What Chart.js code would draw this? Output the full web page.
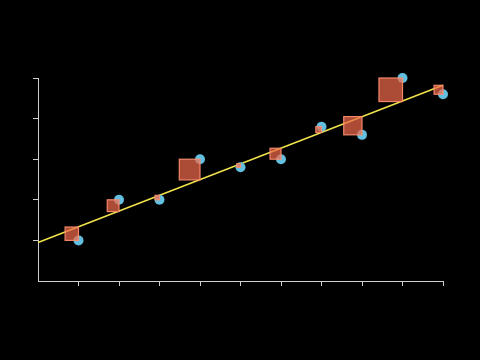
<!DOCTYPE html>
<html><head><meta charset="utf-8">
<script src="https://cdn.jsdelivr.net/npm/chart.js@4/dist/chart.umd.min.js"></script>
<style>html,body{margin:0;padding:0;background:#000;}#wrap{width:480px;height:360px;}</style>
</head><body><div id="wrap"><canvas id="c" width="480" height="360"></canvas></div>
<script>
const xs = [1, 2, 3, 4, 5, 6, 7, 8, 9, 10];
const ys = [1.0, 2.0, 2.0, 3.0, 2.8, 3.0, 3.8, 3.6, 5.0, 4.6];
const fitted = [1.33, 1.71, 2.11, 2.49, 2.89, 3.27, 3.66, 4.05, 4.42, 4.82];
const lineX = [0, 10];
const lineY = [0.95, 4.82];
const xTicks = [0, 1, 2, 3, 4, 5, 6, 7, 8, 9, 10];
const yTicks = [0, 1, 2, 3, 4, 5];

const residualSquares = {
  id: 'residualSquares',
  afterDatasetDraw(chart, args) {
    if (args.index !== 0) return;
    const ctx = chart.ctx, xS = chart.scales.x, yS = chart.scales.y;
    ctx.save();
    for (let i = 0; i < xs.length; i++) {
      const right = xS.getPixelForValue(xs[i]);
      const top = yS.getPixelForValue(Math.max(ys[i], fitted[i]));
      const bottom = yS.getPixelForValue(Math.min(ys[i], fitted[i]));
      const side = bottom - top;
      ctx.fillStyle = 'rgba(240,105,75,0.72)';
      ctx.fillRect(right - side, top, side, side);
      ctx.strokeStyle = 'rgba(250,140,110,0.95)';
      ctx.lineWidth = 1.2;
      ctx.strokeRect(right - side, top, side, side);
    }
    ctx.restore();
  }
};

const bg = { id: 'bg', beforeDraw(c) { c.ctx.save(); c.ctx.fillStyle = '#000'; c.ctx.fillRect(0, 0, c.width, c.height); c.ctx.restore(); } };

new Chart(document.getElementById('c'), {
  type: 'scatter',
  data: {
    datasets: [
      {
        data: xs.map((x, i) => ({ x: x, y: ys[i] })),
        backgroundColor: '#62bfe0', borderColor: '#62bfe0', pointRadius: 5, pointHoverRadius: 5, borderWidth: 0, clip: false
      },
      {
        type: 'line',
        data: lineX.map((x, i) => ({ x: x, y: lineY[i] })),
        borderColor: '#f2e34a', borderWidth: 1.5, pointRadius: 0, fill: false, clip: false
      }
    ]
  },
  options: {
    responsive: false, animation: false, devicePixelRatio: 1,
    layout: { padding: { left: 33, right: 37, top: 78, bottom: 74 } },
    plugins: { legend: { display: false }, tooltip: { enabled: false } },
    scales: {
      x: {
        type: 'linear', min: 0, max: 10,
        afterBuildTicks: s => { s.ticks = xTicks.map(v => ({ value: v })); },
        ticks: { display: false },
        grid: { drawOnChartArea: false, drawTicks: true, tickLength: 5, color: c => c.tick && c.tick.value === 0 ? 'rgba(0,0,0,0)' : '#cfcfcf' },
        border: { color: '#cfcfcf', width: 1 }
      },
      y: {
        type: 'linear', min: 0, max: 5,
        afterBuildTicks: s => { s.ticks = yTicks.map(v => ({ value: v })); },
        ticks: { display: false },
        grid: { drawOnChartArea: false, drawTicks: true, tickLength: 5, color: c => c.tick && c.tick.value === 0 ? 'rgba(0,0,0,0)' : '#cfcfcf' },
        border: { color: '#cfcfcf', width: 1 }
      }
    }
  },
  plugins: [bg, residualSquares]
});
</script></body></html>
